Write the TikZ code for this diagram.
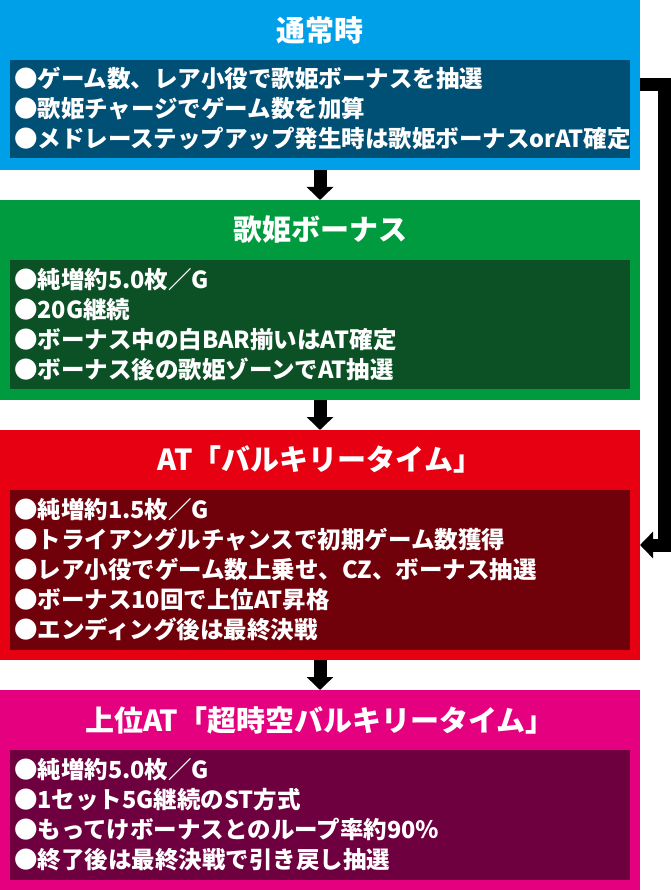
\documentclass[tikz,border=0pt]{standalone}
\usepackage{fontspec}
\setmainfont{Noto Sans CJK JP}
\usetikzlibrary{arrows.meta}
\definecolor{cblue}{RGB}{0,160,233}
\definecolor{dblue}{RGB}{0,79,116}
\definecolor{cgreen}{RGB}{0,155,62}
\definecolor{dgreen}{RGB}{12,80,38}
\definecolor{cred}{RGB}{230,0,18}
\definecolor{dred}{RGB}{112,0,10}
\definecolor{cmag}{RGB}{228,0,127}
\definecolor{dmag}{RGB}{110,0,64}
\tikzset{
  outerbox/.style={rectangle, inner sep=0pt, outer sep=0pt, minimum width=640pt, anchor=north west},
  innerbox/.style={rectangle, inner xsep=4pt, inner ysep=0pt, outer sep=0pt, minimum width=620pt,
     text width=612pt, align=left, anchor=north west, text=white,
     font=\fontsize{23.5pt}{30pt}\selectfont\bfseries},
  titletext/.style={inner sep=0pt, text=white, font=\fontsize{29pt}{32pt}\selectfont\bfseries},
  flowarrow/.style={line width=13pt, -{Triangle[width=26pt,length=13pt]}, line join=miter}
}
\begin{document}
\begin{tikzpicture}[x=1pt,y=-1pt]
\useasboundingbox (0,0) rectangle (670,890);
% panels
\node[outerbox, fill=cblue, minimum height=170pt] (s1) at (0,0) {};
\node[outerbox, fill=cgreen, minimum height=200pt] (s2) at (0,200) {};
\node[outerbox, fill=cred, minimum height=230pt] (s3) at (0,430) {};
\node[outerbox, fill=cmag, minimum height=200pt] (s4) at (0,690) {};
% titles
\node[titletext] (t1) at (320,30) {通常時};
\node[titletext] (t2) at (320,229) {歌姫ボーナス};
\node[titletext] (t3) at (320,459) {AT「バルキリータイム」};
\node[titletext] (t4) at (320,720) {上位AT「超時空バルキリータイム」};
% inner boxes
\node[innerbox, fill=dblue, minimum height=98pt] (b1) at (10,60) {●ゲーム数、レア小役で歌姫ボーナスを抽選\\●歌姫チャージでゲーム数を加算\\●メドレーステップアップ発生時は歌姫ボーナスorAT確定};
\node[innerbox, fill=dgreen, minimum height=129pt] (b2) at (10,260) {●純増約5.0枚／G\\●20G継続\\●ボーナス中の白BAR揃いはAT確定\\●ボーナス後の歌姫ゾーンでAT抽選};
\node[innerbox, fill=dred, minimum height=160pt] (b3) at (10,490) {●純増約1.5枚／G\\●トライアングルチャンスで初期ゲーム数獲得\\●レア小役でゲーム数上乗せ、CZ、ボーナス抽選\\●ボーナス10回で上位AT昇格\\●エンディング後は最終決戦};
\node[innerbox, fill=dmag, minimum height=130pt] (b4) at (10,750) {●純増約5.0枚／G\\●1セット5G継続のST方式\\●もってけボーナスとのループ率約90％\\●終了後は最終決戦で引き戻し抽選};
% connectors
\draw[flowarrow] (s1.south) -- (s2.north);
\draw[flowarrow] (s2.south) -- (s3.north);
\draw[flowarrow] (s3.south) -- (s4.north);
\draw[flowarrow] (s1.east) -- ++(24,0) |- (s3.east);
\end{tikzpicture}
\end{document}
